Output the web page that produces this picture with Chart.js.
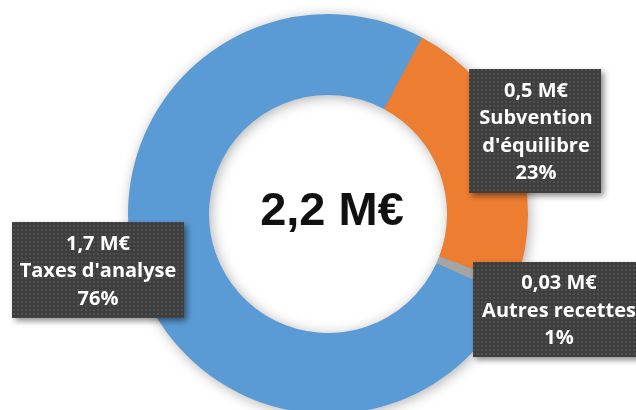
<!DOCTYPE html>
<html>
<head>
<meta charset="utf-8">
<script src="https://cdn.jsdelivr.net/npm/chart.js@4.4.1/dist/chart.umd.min.js"></script>
<style>
  html, body { margin: 0; padding: 0; background: #fff; overflow: hidden; }
  #wrap { position: relative; width: 636px; height: 428px; }
</style>
</head>
<body>
<div id="wrap"><canvas id="donut-chart"></canvas></div>
<script>
// data
var categories = [["Subvention", "d'équilibre"], ["Autres recettes"], ["Taxes d'analyse"]];
var amounts = ["0,5 M€", "0,03 M€", "1,7 M€"];
var shares = [23, 1, 76];
var total = "2,2 M€";
var colors = ["#ED7D31", "#A5A5A5", "#5B9BD5"];

// little dotted texture for the label boxes
function makePattern(ctx) {
  var c = document.createElement("canvas");
  c.width = 4; c.height = 4;
  var p = c.getContext("2d");
  p.fillStyle = "#3e3e3e";
  p.fillRect(0, 0, 4, 4);
  p.fillStyle = "#505050";
  p.fillRect(1, 1, 2, 2);
  return ctx.createPattern(c, "repeat");
}

// soft shadow under the whole ring
var ringShadow = {
  id: "ringShadow",
  beforeDatasetsDraw: function(chart) {
    var arc = chart.getDatasetMeta(0).data[0];
    if (!arc) return;
    var ctx = chart.ctx;
    ctx.save();
    ctx.shadowColor = "rgba(0,0,0,0.35)";
    ctx.shadowBlur = 14;
    ctx.shadowOffsetX = 2;
    ctx.shadowOffsetY = 2;
    ctx.beginPath();
    ctx.arc(arc.x, arc.y, arc.outerRadius - 1, 0, Math.PI * 2);
    ctx.arc(arc.x, arc.y, arc.innerRadius + 1, 0, Math.PI * 2, true);
    ctx.fillStyle = "#888";
    ctx.fill("evenodd");
    ctx.restore();
  }
};

// boxes with amount / name / share, plus the total in the hole
var boxes = [
  { left: 469, top: 69, w: 132, h: 124, tx: 536 },
  { left: 473, top: 262, w: 170, h: 95, tx: 559 },
  { left: 12, top: 222, w: 172, h: 96, tx: 98 }
];
var labelBoxes = {
  id: "labelBoxes",
  afterDraw: function(chart) {
    var ctx = chart.ctx;
    var pattern = makePattern(ctx);
    var lineH = 27.5;
    boxes.forEach(function(b, i) {
      ctx.save();
      ctx.shadowColor = "rgba(0,0,0,0.45)";
      ctx.shadowBlur = 6;
      ctx.shadowOffsetX = 3;
      ctx.shadowOffsetY = 3;
      ctx.fillStyle = "#3e3e3e";
      ctx.fillRect(b.left, b.top, b.w, b.h);
      ctx.restore();
      ctx.fillStyle = pattern;
      ctx.fillRect(b.left, b.top, b.w, b.h);

      var lines = [amounts[i]].concat(chart.data.labels[i]).concat([shares[i] + "%"]);
      var cy = b.top + b.h / 2 + 1.5;
      var y0 = cy - (lines.length - 1) * lineH / 2;
      ctx.fillStyle = "#fff";
      ctx.font = "bold 20px 'Open Sans'";
      ctx.textAlign = "center";
      ctx.textBaseline = "middle";
      lines.forEach(function(t, k) {
        ctx.fillText(t, b.tx, y0 + k * lineH);
      });
    });

    var arc = chart.getDatasetMeta(0).data[0];
    ctx.fillStyle = "#111";
    ctx.font = "bold 47px 'Liberation Sans'";
    ctx.textAlign = "center";
    ctx.textBaseline = "alphabetic";
    ctx.fillText(total, arc.x + 4, 225);
  }
};

var ctx = document.getElementById("donut-chart").getContext("2d");
var chart = new Chart(ctx, {
  type: "doughnut",
  data: {
    labels: categories,
    datasets: [{
      data: shares,
      backgroundColor: colors,
      borderWidth: 0,
      hoverOffset: 0
    }]
  },
  options: {
    responsive: true,
    maintainAspectRatio: false,
    animation: false,
    rotation: 28,
    cutout: "59.5%",
    layout: {
      padding: { left: 20, top: 14, bottom: 14, right: 0 }
    },
    plugins: {
      legend: { display: false },
      tooltip: { enabled: false }
    }
  },
  plugins: [ringShadow, labelBoxes]
});
</script>
</body>
</html>
